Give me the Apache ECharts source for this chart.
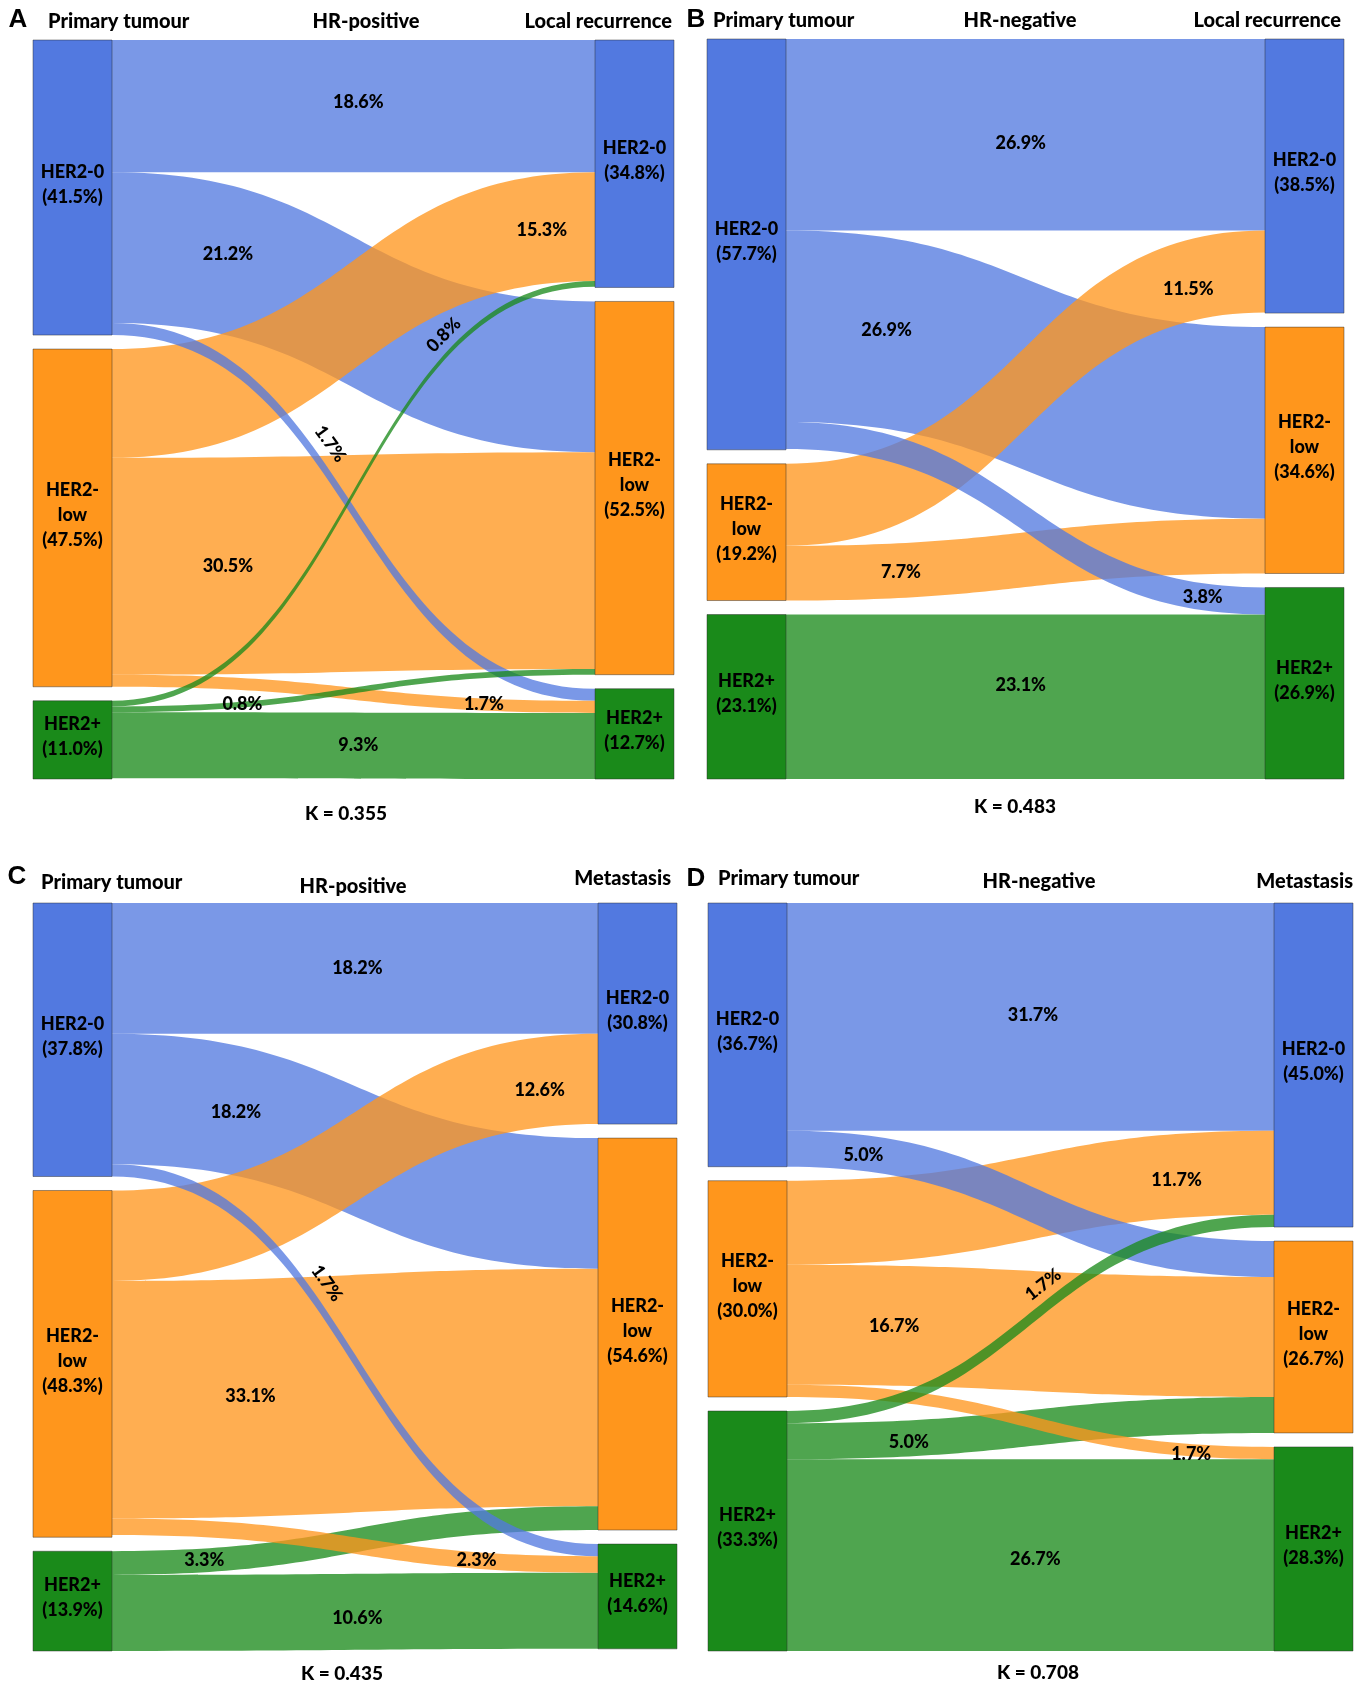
<!DOCTYPE html>
<html><head><meta charset="utf-8">
<script src="https://cdn.jsdelivr.net/npm/echarts@6/dist/echarts.min.js"></script>
<style>html,body{margin:0;padding:0;background:#fff}#c{width:1359px;height:1688px}</style>
</head><body><div id="c"></div>
<script>
// ---------- data ----------
const categories = ['HER2-0', 'HER2-low', 'HER2+'];
const nodeText = ['HER2-0', 'HER2-\nlow', 'HER2+'];

const A_primary = [41.5, 47.5, 11.0];
const A_recurrence = [34.8, 52.5, 12.7];
const A_flows = [[18.6, 21.2, 1.7], [15.3, 30.5, 1.7], [0.8, 0.8, 9.3]];

const B_primary = [57.7, 19.2, 23.1];
const B_recurrence = [38.5, 34.6, 26.9];
const B_flows = [[26.9, 26.9, 3.8], [11.5, 7.7, 0], [0, 0, 23.1]];

const C_primary = [37.8, 48.3, 13.9];
const C_metastasis = [30.8, 54.6, 14.6];
const C_flows = [[18.2, 18.2, 1.7], [12.6, 33.1, 2.3], [0, 3.3, 10.6]];

const D_primary = [36.7, 30.0, 33.3];
const D_metastasis = [45.0, 26.7, 28.3];
const D_flows = [[31.7, 5.0, 0], [11.7, 16.7, 1.7], [1.7, 5.0, 26.7]];

const panelLetters = ['A', 'B', 'C', 'D'];
const cohorts = ['HR-positive', 'HR-negative', 'HR-positive', 'HR-negative'];
const targetTitles = ['Local recurrence', 'Local recurrence', 'Metastasis', 'Metastasis'];
const kappas = ['0.355', '0.483', '0.435', '0.708'];

// ---------- styles ----------
const nodeColors = ['#5279E0', '#FF961C', '#1A8A1A'];
const FONT = 'Lato, "Open Sans", sans-serif';
const W = '900';
// link-label placement: [fraction along x, rotate along curve, vertical nudge]
const place = [
  [[[0.51, 0, -4], [0.24, 0, -6], [0.42, 1]], [[0.89, 0, 0], [0.24, 0, 0], [0.77, 0, 0]], [[0.71, 1], [0.27, 0, 0], [0.51, 0, 0]]],
  [[[0.49, 0, 8], [0.21, 0, -3], [0.87, 0, 0]], [[0.84, 0, 8], [0.24, 0, 2], null], [null, null, [0.49, 0, -12]]],
  [[[0.505, 0, 0], [0.255, 0, 2], [0.41, 1]], [[0.88, 0, 8], [0.285, 0, -2], [0.75, 0, 0]], [null, [0.19, 0, 0], [0.505, 0, 6]]],
  [[[0.505, 0, -2], [0.157, 0, 2], null], [[0.80, 0, 4], [0.22, 0, 0], [0.83, 0, 4]], [[0.55, 1], [0.25, 0, 4], [0.51, 0, 4]]]
];
const rects = [
  {left: 33, top: 40, width: 641, height: 739},
  {left: 707, top: 39, width: 637, height: 740},
  {left: 33, top: 903, width: 644, height: 748},
  {left: 708, top: 903, width: 645, height: 748}
];
const panels = [
  [A_primary, A_recurrence, A_flows],
  [B_primary, B_recurrence, B_flows],
  [C_primary, C_metastasis, C_flows],
  [D_primary, D_metastasis, D_flows]
];

const chart = echarts.init(document.getElementById('c'), null, {renderer: 'canvas'});
const linkMeta = [];

const series = panels.map(function (p, pi) {
  const src = p[0], tgt = p[1], flows = p[2];
  const data = [];
  categories.forEach(function (c, i) {
    data.push({name: 'L' + i, value: src[i], itemStyle: {color: nodeColors[i]},
      label: {formatter: nodeText[i] + '\n(' + src[i].toFixed(1) + '%)'}});
  });
  categories.forEach(function (c, i) {
    data.push({name: 'R' + i, value: tgt[i], itemStyle: {color: nodeColors[i]},
      label: {formatter: nodeText[i] + '\n(' + tgt[i].toFixed(1) + '%)'}});
  });
  let links = [];
  flows.forEach(function (row, i) {
    row.forEach(function (v, j) {
      if (v > 0) links.push({source: 'L' + i, target: 'R' + j, value: v,
        lineStyle: {color: nodeColors[i]}, _pl: place[pi][i][j]});
    });
  });
  links.sort(function (a, b) { return b.value - a.value; });
  linkMeta[pi] = links.map(function (l) { return {value: l.value, pl: l._pl}; });
  links = links.map(function (l) { return {source: l.source, target: l.target, value: l.value, lineStyle: l.lineStyle}; });
  return {
    type: 'sankey',
    left: rects[pi].left, top: rects[pi].top, width: rects[pi].width, height: rects[pi].height,
    nodeWidth: 79, nodeGap: 14, layoutIterations: 0, draggable: false,
    emphasis: {disabled: true},
    itemStyle: {borderColor: 'rgba(40,40,40,0.45)', borderWidth: 1},
    lineStyle: {opacity: 0.77, curveness: 0.5},
    label: {show: true, position: 'inside', color: '#000', fontFamily: FONT, fontWeight: W,
      fontSize: 18, lineHeight: 25, align: 'center', offset: [0, -3]},
    data: data, links: links
  };
});

const graphics = [];
function txt(x, y, text, size, align, family) {
  graphics.push({type: 'text', x: x, y: y, z: 100,
    style: {text: text, fill: '#000', font: W + ' ' + size + 'px ' + (family || FONT),
      textAlign: align || 'center', textVerticalAlign: 'middle'}});
}
// titles
txt(18, 20, 'A', 26, 'center', '"Liberation Sans", Arial');
txt(696, 20, 'B', 26, 'center', '"Liberation Sans", Arial');
txt(17, 877, 'C', 26, 'center', '"Liberation Sans", Arial');
txt(696, 879, 'D', 26, 'center', '"Liberation Sans", Arial');
txt(48, 22, 'Primary tumour', 20, 'left');
txt(713, 21, 'Primary tumour', 20, 'left');
txt(41, 883, 'Primary tumour', 20, 'left');
txt(718, 879, 'Primary tumour', 20, 'left');
txt(366, 22, cohorts[0], 20);
txt(1020, 21, cohorts[1], 20);
txt(353, 887, cohorts[2], 20);
txt(1039, 882, cohorts[3], 20);
txt(672, 22, targetTitles[0], 20, 'right');
txt(1341, 21, targetTitles[1], 20, 'right');
txt(671, 879, targetTitles[2], 20, 'right');
txt(1353, 882, targetTitles[3], 20, 'right');
txt(346, 814, 'K = ' + kappas[0], 19);
txt(1015, 807, 'K = ' + kappas[1], 19);
txt(342, 1674, 'K = ' + kappas[2], 19);
txt(1038, 1673, 'K = ' + kappas[3], 19);

chart.setOption({animation: false, backgroundColor: '#fff', series: series, graphic: graphics});

// ---------- link labels from the library's sankey layout ----------
function bz(a, b, c, d, t) { const u = 1 - t; return u*u*u*a + 3*u*u*t*b + 3*u*t*t*c + t*t*t*d; }
function bzd(a, b, c, d, t) { const u = 1 - t; return 3*u*u*(b - a) + 6*u*t*(c - b) + 3*t*t*(d - c); }
try {
  const model = chart.getModel();
  panels.forEach(function (p, pi) {
    const sm = model.getSeriesByIndex(pi);
    const li = sm.layoutInfo;
    const graph = sm.getGraph();
    graph.eachEdge(function (edge) {
      const meta = linkMeta[pi][edge.dataIndex];
      if (!meta || !meta.pl) return;
      const n1 = edge.node1.getLayout(), n2 = edge.node2.getLayout(), el = edge.getLayout();
      const x1 = li.x + n1.x + n1.dx, y1 = li.y + n1.y + el.sy + el.dy / 2;
      const x2 = li.x + n2.x, y2 = li.y + n2.y + el.ty + el.dy / 2;
      const cx = (x1 + x2) / 2;
      const tx = x1 + meta.pl[0] * (x2 - x1);
      let lo = 0, hi = 1;
      for (let k = 0; k < 40; k++) { const m = (lo + hi) / 2; if (bz(x1, cx, cx, x2, m) < tx) lo = m; else hi = m; }
      const t = (lo + hi) / 2;
      let px = bz(x1, cx, cx, x2, t), py = bz(y1, y1, y2, y2, t);
      let rot = 0;
      if (meta.pl[1]) {
        const dx = bzd(x1, cx, cx, x2, t), dy = bzd(y1, y1, y2, y2, t);
        const th = Math.atan2(dy, dx);
        const dist = el.dy / 2 + 13;
        px += Math.sin(th) * dist; py += -Math.cos(th) * dist;
        rot = -th;
      } else {
        py += meta.pl[2] || 0;
      }
      graphics.push({type: 'text', x: px, y: py, rotation: rot, z: 100,
        style: {text: meta.value.toFixed(1) + '%', fill: '#000', font: W + ' 18px ' + FONT,
          textAlign: 'center', textVerticalAlign: 'middle'}});
    });
  });
  chart.setOption({graphic: graphics});
} catch (e) { console.error(e); }
</script></body></html>
